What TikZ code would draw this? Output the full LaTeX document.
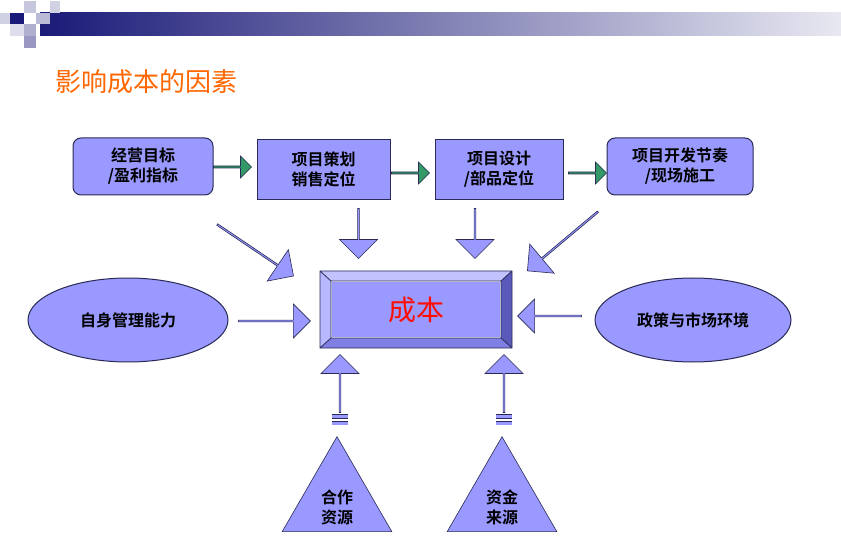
\documentclass[tikz,border=0pt]{standalone}
\usepackage{fontspec}
\setmainfont{Noto Sans CJK SC}
\newfontfamily\cjkb{Noto Sans CJK SC Bold}
\usetikzlibrary{shapes.arrows,shapes.geometric}
\definecolor{peri}{HTML}{9999FF}
\definecolor{edge}{HTML}{2A2A55}
\definecolor{grn}{HTML}{339966}
\definecolor{navy}{HTML}{1A1A78}
\tikzset{
 box/.style={draw=edge,fill=peri,line width=1pt,minimum width=#1,minimum height=60pt,align=center,font=\cjkb\fontsize{16}{20}\selectfont,inner sep=0pt},
 rbox/.style={box=#1,rounded corners=8pt,minimum height=57pt},
 garr/.style={single arrow,draw=edge,fill=grn,line width=0.6pt,minimum width=22pt,single arrow head extend=3pt,minimum height=#1,inner sep=0pt},
 barr/.style={single arrow,draw=edge,fill=peri,line width=0.6pt,minimum width=38pt,single arrow head extend=6pt,minimum height=#1,inner sep=0pt,single arrow tip angle=90},
 ell/.style={ellipse,draw=edge,fill=peri,line width=1pt,minimum width=200pt,minimum height=84pt,font=\cjkb\fontsize{16}{20}\selectfont},
 tri/.style={isosceles triangle,isosceles triangle apex angle=60,shape border rotate=90,draw=edge,fill=peri,line width=0.6pt,minimum height=95pt,inner sep=0pt,anchor=south},
}
\begin{document}
\begin{tikzpicture}[x=1pt,y=-1pt]
\useasboundingbox (0,0) rectangle (841,548);
% header
\shade[left color=navy,right color=navy!10] (40,13) rectangle (841,36);
\fill[navy] (10,13) rectangle (24,24);
\fill[navy!25] (24,1) rectangle (36,13);
\fill[navy!30] (36,13) rectangle (50,24);
\fill[navy!20] (0,13) rectangle (10,24);
\fill[navy!15] (10,24) rectangle (24,36);
\fill[navy!35] (24,24) rectangle (36,36);
\fill[navy!45] (24,36) rectangle (36,48);
\fill[navy!20] (50,1) rectangle (60,13);
\node[anchor=west,text=orange!80!red,font=\fontsize{26}{30}\selectfont,inner sep=0pt] (title) at (55,82) {影响成本的因素};
% top boxes
\node[rbox=140pt] (b1) at (143,166.5) {经营目标\\/盈利指标};
\node[box=133pt] (b2) at (323.5,169.5) {项目策划\\销售定位};
\node[box=128pt] (b3) at (499,169.5) {项目设计\\/部品定位};
\node[rbox=146pt] (b4) at (680,166.5) {项目开发节奏\\/现场施工};
\node[garr=38pt] (g1) at (232,167) {};
\node[garr=38pt] (g2) at (410,173) {};
\node[garr=38pt] (g3) at (587,173) {};
% center bevel box
\fill[peri!60!white] (320,271) -- (512,271) -- (501,281) -- (331,281) -- cycle;
\fill[peri!70!white] (320,271) -- (331,281) -- (331,338) -- (320,348) -- cycle;
\fill[peri!50!navy] (512,271) -- (512,348) -- (501,338) -- (501,281) -- cycle;
\fill[peri!80!navy] (320,348) -- (331,338) -- (501,338) -- (512,348) -- cycle;
\draw[edge,line width=0.8pt] (320,271) rectangle (512,348) (331,281) rectangle (501,338)
 (320,271)--(331,281) (512,271)--(501,281) (320,348)--(331,338) (512,348)--(501,338);
\node[fill=peri,minimum width=168pt,minimum height=55pt,text=red!90!orange,font=\fontsize{28}{30}\selectfont] (cost) at (416,309.5) {成本};
% blue arrows
\node[barr=50pt,rotate=-90] (d1) at (358.5,233) {};
\node[barr=50pt,rotate=-90] (d2) at (475,233) {};
\node[barr=92pt,rotate=-34] (dl) at (255,250) {};
\node[barr=92pt,rotate=-140] (dr) at (563,241) {};
\node[barr=72pt,minimum width=34pt] (hl) at (274,321) {};
\node[barr=64pt,minimum width=34pt,rotate=180] (hr) at (550,316) {};
\node[barr=58pt,rotate=90] (ul) at (340,384) {};
\node[barr=58pt,rotate=90] (ur) at (504,384) {};
\foreach \x in {340,504}{
 \fill[peri] (\x-8,414) rectangle (\x+8,418);
 \draw[edge,line width=0.5pt] (\x-8,414) -- (\x+8,414) (\x-8,418)--(\x+8,418);
 \fill[peri] (\x-8,421) rectangle (\x+8,425);
 \draw[edge,line width=0.5pt] (\x-8,421) -- (\x+8,421);
}
% ellipses
\node[ell] (e1) at (128,320) {自身管理能力};
\node[ell,minimum width=196pt] (e2) at (693,320) {政策与市场环境};
% triangles
\node[tri] (t1) at (337,532) {};
\node[align=center,font=\cjkb\fontsize{16}{20}\selectfont] (t1t) at (337,507) {合作\\资源};
\node[tri] (t2) at (502,532) {};
\node[align=center,font=\cjkb\fontsize{16}{20}\selectfont] (t2t) at (502,507) {资金\\来源};
\end{tikzpicture}
\end{document}
